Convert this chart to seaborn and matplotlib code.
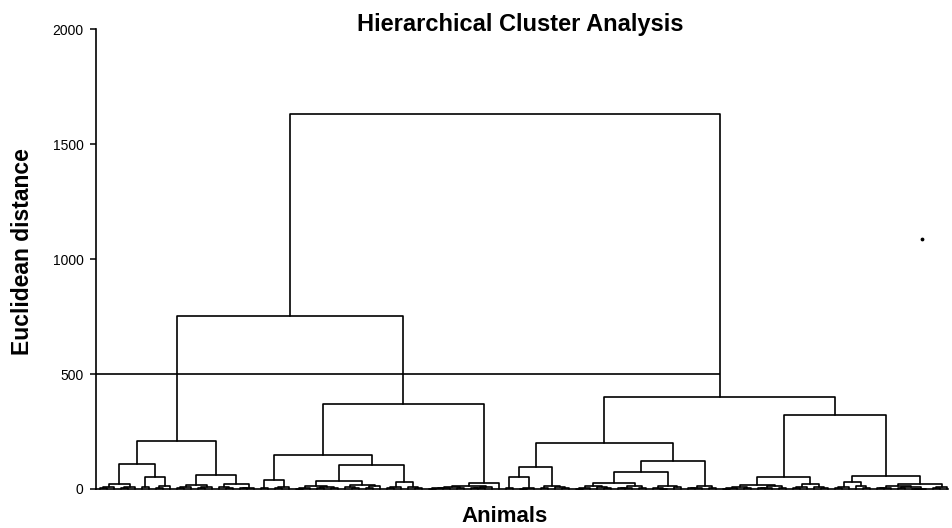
import matplotlib
matplotlib.use("Agg")
import matplotlib.pyplot as plt
import pandas as pd
import seaborn as sns

# a single animal (leaf of the tree)
o = None

# dendrogram clusters written as [merge height, left, right]
# -- left branch, low level
c_lll_a = [23, [8, [3, o, o], o], [10, [5, o, o], o]]
c_lll_b = [52, [9, o, o], [12, [4, o, o], o]]
c_llr_a = [19, [9, [5, o, o], o], [7, [3, o, o], o]]
c_llr_b = [20, [8, o, [4, o, o]], [6, [3, o, o], o]]
c_lrl_a = [41, [5, o, o], [9, [3, o, o], o]]
c_lrlr_a = [35, [14, [6, [2, o, o], o], [9, [4, o, o], [3, o, o]]],
            [18, [7, o, [3, o, o]], [11, [4, o, o], o]]]
c_lrlr_b = [30, [10, [3, o, o], o], [8, o, [4, o, o]]]
c_lrr = [25, [14, [8, [5, [3, [2, o, o], o], o], [4, o, o]],
              [10, [6, [3, o, o], o], o]], o]

# -- right branch, low level
c_rll_a = [50, [3, o, o], [6, [2, o, o], o]]
c_rll_b = [15, [4, o, o], [7, o, [3, o, o]]]
c_rlrl_a = [26, [12, [5, [2, o, o], o], [7, o, [3, o, o]]],
            [15, [6, [3, o, o], o], [4, o, o]]]
c_rlrl_b = [15, [5, o, [2, o, o]], [8, o, o]]
c_rlr_b = [15, [6, [3, o, o], o], [4, o, o]]
c_rrl = [51, [18, [8, [4, [2, o, o], o], [5, o, o]],
              [11, [6, [3, o, o], o], [4, o, o]]],
         [22, [7, [3, o, o], o], [10, o, [4, o, o]]]]
c_rrr_a = [32, [9, [3, o, o], o], [12, o, [5, o, o]]]
c_rrr_b = [20, [14, [6, [3, o, o], o], [9, [4, o, o], [2, [1, o, o], o]]],
           [8, [3, o, o], o]]

# upper merges
left_tree = [751,
             [207, [110, c_lll_a, c_lll_b], [59, c_llr_a, c_llr_b]],
             [368, [150, c_lrl_a, [105, c_lrlr_a, c_lrlr_b]], c_lrr]]
right_tree = [401,
              [200, [95, c_rll_a, c_rll_b],
               [120, [75, c_rlrl_a, c_rlrl_b], c_rlr_b]],
              [323, c_rrl, [55, c_rrr_a, c_rrr_b]]]
root_height = 1632
cut_height = 500
stray_point = (117.4, 1087)

y_ticks = [0, 500, 1000, 1500, 2000]


def layout(node, counter, segs):
    if not isinstance(node, list):
        x = counter[0]
        counter[0] += 1
        return x, 0.0
    h, left, right = node
    xl, hl = layout(left, counter, segs)
    xr, hr = layout(right, counter, segs)
    segs.append(([xl, xl, xr, xr], [hl, h, h, hr]))
    return (xl + xr) / 2, h


segs = []
counter = [0]
root = [root_height, left_tree, right_tree]
layout(root, counter, segs)
n_leaves = counter[0]

# x position of the right branch (where the cut line stops)
right_x = None
for xs, ys in segs:
    if ys[1] == right_tree[0]:
        right_x = (xs[0] + xs[2]) / 2

rows = []
for i, (xs, ys) in enumerate(segs):
    for x, y in zip(xs, ys):
        rows.append({"seg": i, "x": x, "y": y})
df = pd.DataFrame(rows)

sns.set_style("ticks")
plt.rcParams["font.family"] = ["Liberation Sans", "DejaVu Sans"]
plt.rcParams["text.color"] = "black"

fig = plt.figure(figsize=(9.52, 5.28), dpi=100)
ax = fig.add_axes([0.1008, 0.0739, 0.895, 0.8706])

sns.lineplot(data=df, x="x", y="y", units="seg", estimator=None, sort=False,
             color="black", linewidth=1.2, ax=ax, legend=False)
for line in ax.lines:
    line.set_clip_on(False)

x0 = -0.57
x1 = x0 + 0.895 * 952 / 7
ax.hlines(cut_height, x0, right_x, color="black", linewidth=1.2)
ax.scatter([stray_point[0]], [stray_point[1]], s=3, color="black")

ax.set_xlim(x0, x1)
ax.set_ylim(0, 2000)
ax.set_xticks([])
ax.set_yticks(y_ticks)
ax.set_yticklabels([str(v) for v in y_ticks], fontsize=10)
ax.tick_params(axis="y", length=4, width=1.1, pad=5, colors="black")
ax.set_xlabel("")
ax.set_ylabel("")
sns.despine(ax=ax)
for side in ["left", "bottom"]:
    ax.spines[side].set_linewidth(1.2)
    ax.spines[side].set_color("black")

fig.text(0.547, 0.953, "Hierarchical Cluster Analysis", ha="center",
         va="center", fontsize=17, fontweight="bold", color="black")
fig.text(0.0236, 0.523, "Euclidean distance", ha="center", va="center",
         rotation=90, fontsize=16.5, fontweight="bold", color="black")
fig.text(0.530, 0.022, "Animals", ha="center", va="center",
         fontsize=16, fontweight="bold", color="black")

fig.savefig("out.png", dpi=100, facecolor="white")
